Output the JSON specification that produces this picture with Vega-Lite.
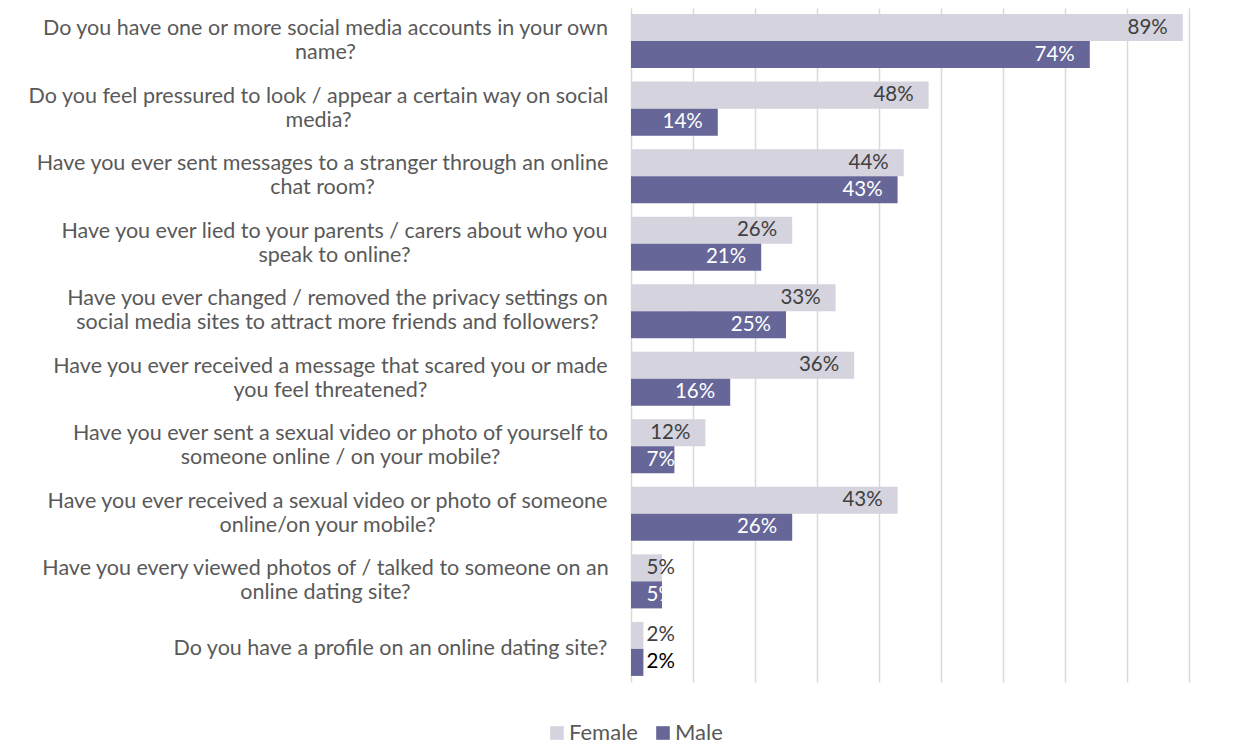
{
  "$schema": "https://vega.github.io/schema/vega-lite/v6.json",
  "width": 558,
  "height": 674,
  "autosize": {"type": "none"},
  "padding": {"left": 631, "top": 8, "right": 48, "bottom": 63},
  "background": "white",
  "config": {"font": "Lato", "view": {"stroke": null}},
  "data": {
    "values": [
      {"question": "Do you have one or more social media accounts in your own|name?", "gender": "Female", "pct": 0.89},
      {"question": "Do you have one or more social media accounts in your own|name?", "gender": "Male", "pct": 0.74},
      {"question": "Do you feel pressured to look / appear a certain way on social|media?", "gender": "Female", "pct": 0.48},
      {"question": "Do you feel pressured to look / appear a certain way on social|media?", "gender": "Male", "pct": 0.14},
      {"question": "Have you ever sent messages to a stranger through an online|chat room?", "gender": "Female", "pct": 0.44},
      {"question": "Have you ever sent messages to a stranger through an online|chat room?", "gender": "Male", "pct": 0.43},
      {"question": "Have you ever lied to your parents / carers about who you|speak to online?", "gender": "Female", "pct": 0.26},
      {"question": "Have you ever lied to your parents / carers about who you|speak to online?", "gender": "Male", "pct": 0.21},
      {"question": "Have you ever changed / removed the privacy settings on|social media sites to attract more friends and followers?", "gender": "Female", "pct": 0.33},
      {"question": "Have you ever changed / removed the privacy settings on|social media sites to attract more friends and followers?", "gender": "Male", "pct": 0.25},
      {"question": "Have you ever received a message that scared you or made|you feel threatened?", "gender": "Female", "pct": 0.36},
      {"question": "Have you ever received a message that scared you or made|you feel threatened?", "gender": "Male", "pct": 0.16},
      {"question": "Have you ever sent a sexual video or photo of yourself to|someone online / on your mobile?", "gender": "Female", "pct": 0.12},
      {"question": "Have you ever sent a sexual video or photo of yourself to|someone online / on your mobile?", "gender": "Male", "pct": 0.07},
      {"question": "Have you ever received a sexual video or photo of someone|online/on your mobile?", "gender": "Female", "pct": 0.43},
      {"question": "Have you ever received a sexual video or photo of someone|online/on your mobile?", "gender": "Male", "pct": 0.26},
      {"question": "Have you every viewed photos of / talked to someone on an|online dating site?", "gender": "Female", "pct": 0.05},
      {"question": "Have you every viewed photos of / talked to someone on an|online dating site?", "gender": "Male", "pct": 0.05},
      {"question": "Do you have a profile on an online dating site?", "gender": "Female", "pct": 0.02},
      {"question": "Do you have a profile on an online dating site?", "gender": "Male", "pct": 0.02}
    ]
  },
  "transform": [{"calculate": "max(datum.pct, 0.095)", "as": "labelPos"}],
  "encoding": {
    "y": {
      "field": "question",
      "type": "nominal",
      "sort": null,
      "scale": {"paddingInner": 0.2, "paddingOuter": 0.09},
      "axis": {
        "title": null,
        "ticks": false,
        "domain": false,
        "labelExpr": "split(datum.label, '|')",
        "labelFontSize": 21.5,
        "labelColor": "#595959",
        "labelLimit": 800,
        "labelLineHeight": 24,
        "labelAlign": "center",
        "labelOffset": {
          "condition": {"test": "indexof(datum.value, '|') >= 0", "value": -12},
          "value": 0
        },
        "labelPadding": {
          "condition": [
            {"test": "indexof(datum.value, 'own|name') >= 0", "value": 306},
            {"test": "indexof(datum.value, 'on social|') >= 0", "value": 313},
            {"test": "indexof(datum.value, 'chat room') >= 0", "value": 309},
            {"test": "indexof(datum.value, 'carers') >= 0", "value": 297},
            {"test": "indexof(datum.value, 'privacy') >= 0", "value": 294},
            {"test": "indexof(datum.value, 'scared') >= 0", "value": 301},
            {"test": "indexof(datum.value, 'of yourself') >= 0", "value": 291},
            {"test": "indexof(datum.value, 'of someone') >= 0", "value": 304},
            {"test": "indexof(datum.value, 'viewed') >= 0", "value": 306}
          ],
          "value": 241
        }
      }
    },
    "yOffset": {"field": "gender", "type": "nominal", "sort": ["Female", "Male"], "scale": {"paddingInner": 0}}
  },
  "layer": [
    {
      "mark": {"type": "bar"},
      "encoding": {
        "x": {
          "field": "pct",
          "type": "quantitative",
          "scale": {"domain": [0, 0.9], "nice": false},
          "axis": {
            "values": [0, 0.1, 0.2, 0.3, 0.4, 0.5, 0.6, 0.7, 0.8, 0.9],
            "labels": false,
            "ticks": false,
            "domain": false,
            "grid": true,
            "gridColor": "#d9d9d9",
            "gridWidth": 1.5,
            "title": null
          }
        },
        "color": {
          "field": "gender",
          "type": "nominal",
          "scale": {"domain": ["Female", "Male"], "range": ["#d4d3de", "#666699"]},
          "legend": {
            "title": null,
            "orient": "none",
            "direction": "horizontal",
            "legendX": -85,
            "legendY": 714,
            "symbolType": "square",
            "symbolSize": 185,
            "symbolStrokeWidth": 0,
            "labelFontSize": 22,
            "labelColor": "#595959",
            "columnPadding": 14,
            "labelOffset": 1
          }
        }
      }
    },
    {
      "mark": {"type": "text", "align": "right", "baseline": "middle", "dx": -15, "fontSize": 20.5},
      "encoding": {
        "x": {"field": "labelPos", "type": "quantitative"},
        "text": {"field": "pct", "type": "quantitative", "format": ".0%"},
        "color": {
          "condition": [
            {"test": "datum.gender == 'Male' && datum.pct < 0.03", "value": "black"},
            {"test": "datum.gender == 'Male'", "value": "white"}
          ],
          "value": "#404040"
        }
      }
    }
  ]
}
